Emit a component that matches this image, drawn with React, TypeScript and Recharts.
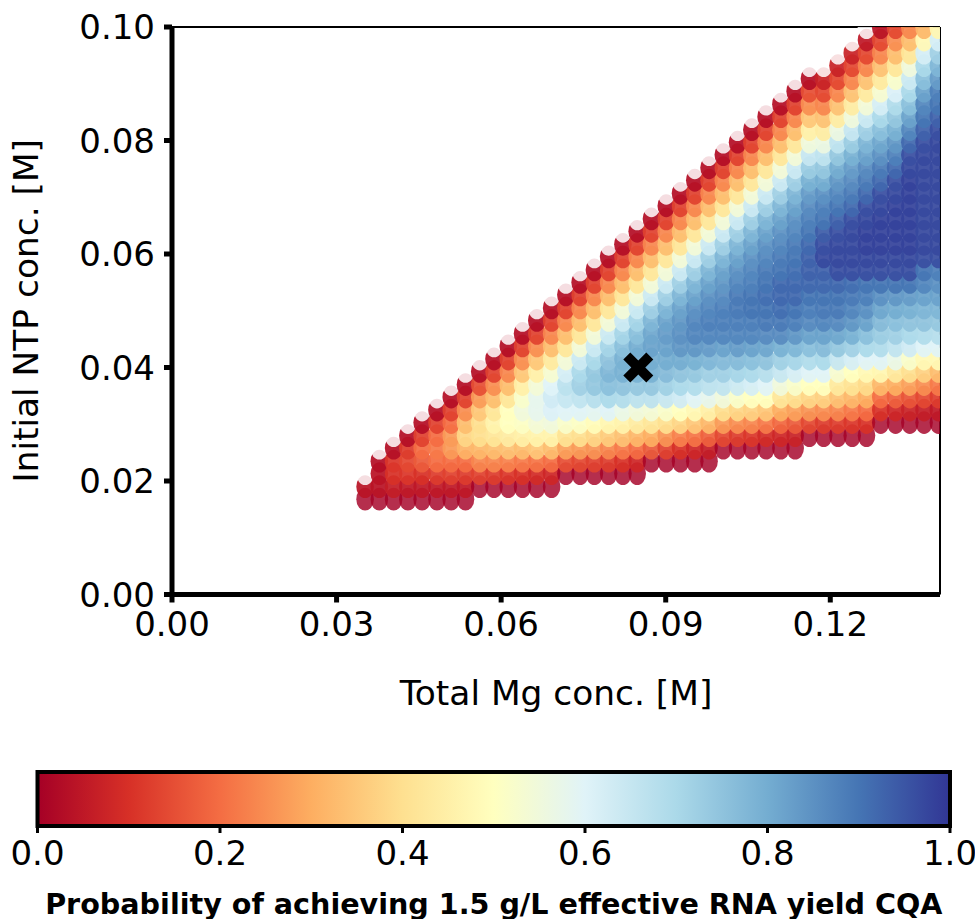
import React from 'react';
import { ScatterChart, Scatter, XAxis, YAxis, ReferenceLine, ReferenceArea } from 'recharts';

const FONT = '"DejaVu Sans"';

const mgTicks = [0, 0.03, 0.06, 0.09, 0.12];
const ntpTicks = [0, 0.02, 0.04, 0.06, 0.08, 0.1];
const barTicks = [0, 0.2, 0.4, 0.6, 0.8, 1];

// colormap stops, 0 to 1
const palette = ['#a50026', '#d73027', '#f46d43', '#fdae61', '#fee090', '#ffffbf', '#e0f3f8', '#abd9e9', '#74add1', '#4575b4', '#313695'];

const mgValues = [
  0.0352, 0.0378, 0.0404, 0.043, 0.0456, 0.0483, 0.0509, 0.0535, 0.0561, 0.0587, 0.0613, 0.0639, 0.0665, 0.0692,
  0.0718, 0.0744, 0.077, 0.0796, 0.0822, 0.0848, 0.0874, 0.0901, 0.0927, 0.0953, 0.0979, 0.1005, 0.1031, 0.1057,
  0.1083, 0.111, 0.1136, 0.1162, 0.1188, 0.1214, 0.124, 0.1266, 0.1292, 0.1319, 0.1345, 0.1371, 0.1397,
];

const ntpValues = [
  0.0168, 0.019, 0.0213, 0.0235, 0.0258, 0.028, 0.0303, 0.0325, 0.0348, 0.037, 0.0393, 0.0415, 0.0438, 0.046,
  0.0483, 0.0505, 0.0528, 0.055, 0.0572, 0.0595, 0.0617, 0.064, 0.0662, 0.0685, 0.0707, 0.073, 0.0752, 0.0775,
  0.0797, 0.0819, 0.0842, 0.0864, 0.0887, 0.0909, 0.0932, 0.0954, 0.0977, 0.0999,
];

// lowest filled row of each Mg column
const firstRow = [
  0, 0, 0, 0, 0, 0, 0, 0, 1, 1, 1, 1, 1, 1, 2, 2, 2, 2, 2, 2, 3, 3, 3, 3, 3, 4, 4, 4, 4, 4, 4, 5, 5, 5, 5, 5, 6, 6, 6, 6, 6,
];

// probability in percent, one list per Mg column, bottom row first
const probability = [
  [0, 4],
  [0, 4, 4, 3],
  [0, 6, 10, 11, 3],
  [0, 5, 11, 14, 12, 3],
  [0, 5, 10, 17, 20, 13, 3],
  [0, 5, 12, 20, 22, 20, 13, 3],
  [0, 5, 13, 20, 27, 27, 20, 13, 3],
  [0, 5, 12, 20, 31, 38, 33, 25, 13, 3],
  [0, 13, 24, 32, 40, 40, 35, 27, 15, 3],
  [0, 12, 24, 33, 42, 46, 42, 33, 25, 13, 3],
  [0, 11, 23, 34, 44, 50, 50, 42, 33, 24, 13, 3],
  [0, 10, 22, 33, 45, 51, 55, 52, 45, 35, 25, 13, 3],
  [0, 9, 21, 35, 46, 54, 58, 58, 54, 45, 35, 25, 13, 3],
  [0, 8, 20, 33, 46, 55, 61, 63, 60, 53, 43, 33, 24, 13, 3],
  [0, 15, 28, 41, 52, 60, 65, 67, 62, 54, 42, 33, 24, 13, 3],
  [0, 14, 27, 40, 51, 60, 66, 72, 70, 64, 54, 42, 33, 24, 13, 3],
  [0, 13, 26, 38, 49, 59, 68, 74, 74, 70, 64, 54, 42, 33, 24, 13, 3],
  [0, 12, 24, 36, 47, 60, 70, 76, 78, 75, 71, 64, 54, 42, 33, 24, 13, 3],
  [0, 10, 22, 34, 46, 57, 69, 75, 79, 79, 76, 71, 64, 54, 42, 33, 24, 13, 3],
  [0, 8, 20, 32, 44, 55, 67, 74, 79, 80, 80, 76, 71, 64, 54, 42, 33, 24, 13, 3],
  [0, 17, 30, 42, 54, 67, 74, 79, 80, 82, 81, 78, 72, 64, 54, 42, 33, 24, 13, 3],
  [0, 13, 26, 40, 52, 65, 72, 77, 80, 82, 83, 82, 78, 72, 64, 54, 42, 33, 24, 13, 3],
  [0, 10, 23, 38, 50, 63, 70, 75, 80, 84, 85, 84, 82, 78, 72, 64, 54, 42, 33, 24, 13, 3],
  [0, 8, 21, 35, 48, 60, 69, 74, 79, 84, 87, 87, 85, 82, 78, 72, 64, 54, 42, 33, 24, 13, 3],
  [0, 6, 18, 32, 45, 58, 67, 72, 78, 83, 87, 88, 87, 85, 82, 78, 72, 64, 54, 42, 33, 24, 13, 3],
  [0, 14, 27, 40, 55, 66, 72, 77, 82, 87, 88, 88, 86, 84, 82, 78, 72, 64, 54, 42, 33, 24, 13, 3],
  [0, 12, 25, 38, 52, 64, 71, 77, 83, 87, 88, 89, 89, 87, 85, 82, 78, 72, 64, 54, 42, 33, 24, 13, 3],
  [0, 11, 24, 37, 50, 62, 70, 76, 82, 87, 88, 90, 90, 88, 87, 85, 82, 78, 72, 64, 54, 42, 33, 24, 13, 3],
  [0, 9, 22, 35, 50, 60, 68, 75, 81, 86, 89, 90, 91, 90, 89, 87, 85, 82, 78, 72, 64, 54, 42, 33, 24, 13, 3],
  [0, 8, 19, 30, 42, 55, 65, 72, 79, 86, 89, 91, 92, 92, 90, 89, 87, 85, 82, 78, 72, 64, 54, 42, 33, 24, 13, 3],
  [0, 7, 17, 28, 40, 52, 62, 71, 78, 84, 88, 90, 92, 92, 91, 90, 89, 87, 85, 82, 78, 72, 64, 54, 42, 33, 24, 13, 3],
  [0, 14, 26, 38, 50, 60, 69, 76, 82, 86, 88, 90, 92, 93, 93, 92, 90, 88, 86, 83, 79, 73, 65, 55, 45, 35, 25, 15, 3],
  [0, 12, 25, 37, 50, 60, 70, 77, 82, 87, 89, 90, 92, 93, 97, 96, 94, 90, 88, 85, 80, 74, 66, 56, 44, 34, 24, 14, 7],
  [0, 12, 24, 34, 43, 53, 65, 74, 81, 86, 89, 90, 92, 96, 97, 97, 96, 93, 90, 87, 84, 80, 74, 66, 56, 44, 34, 24, 14, 7],
  [0, 11, 22, 32, 41, 50, 62, 72, 79, 84, 87, 89, 91, 96, 97, 97, 97, 96, 92, 89, 86, 83, 79, 73, 65, 55, 44, 34, 24, 14, 7],
  [0, 10, 20, 30, 39, 48, 60, 70, 76, 82, 85, 88, 90, 96, 97, 98, 98, 97, 96, 92, 89, 86, 82, 78, 72, 64, 54, 43, 34, 24, 14, 5],
  [0, 10, 20, 32, 47, 60, 69, 73, 77, 81, 85, 90, 96, 97, 98, 98, 98, 97, 96, 92, 89, 85, 81, 76, 70, 62, 53, 43, 34, 24, 14, 4],
  [0, 8, 18, 30, 43, 57, 66, 72, 76, 80, 84, 90, 96, 97, 98, 98, 98, 98, 97, 96, 92, 88, 84, 79, 74, 69, 61, 52, 42, 33, 25, 14],
  [0, 7, 16, 28, 40, 52, 63, 70, 75, 79, 83, 90, 96, 97, 98, 98, 98, 98, 98, 98, 97, 96, 92, 87, 82, 76, 70, 64, 55, 42, 33, 24],
  [0, 6, 14, 25, 37, 48, 60, 69, 75, 78, 82, 87, 90, 96, 97, 97, 97, 97, 97, 97, 97, 97, 96, 93, 90, 87, 82, 76, 70, 62, 48, 32],
  [0, 5, 12, 22, 33, 48, 60, 68, 74, 78, 82, 85, 88, 96, 97, 97, 97, 97, 97, 97, 97, 97, 97, 96, 93, 90, 88, 83, 78, 72, 62, 47],
];

const optimum = [{ x: 0.085, y: 0.04 }];
const barEnds = [{ x: 0, y: 0 }, { x: 1, y: 1 }];

type Dot = { x: number; y: number; p: number };

const hex = (s: string, i: number) => parseInt(s.slice(1 + i * 2, 3 + i * 2), 16);

const colorOf = (p: number) => {
  const t = Math.min(Math.max(p, 0), 0.9999) * 10;
  const i = Math.floor(t);
  const f = t - i;
  const c = [0, 1, 2].map((k) => Math.round(hex(palette[i], k) * (1 - f) + hex(palette[i + 1], k) * f));
  return `rgb(${c[0]},${c[1]},${c[2]})`;
};

// rows go bottom up so the upper circles cover the lower ones, p = -1 is the white circle above the top edge
const dots: Dot[] = [];
ntpValues.forEach((y, r) => {
  mgValues.forEach((x, c) => {
    const idx = r - firstRow[c];
    const list = probability[c];
    if (idx < 0 || idx > list.length) return;
    dots.push({ x, y, p: idx === list.length ? -1 : list[idx] / 100 });
  });
});

// the markers in the picture are taller than wide
const Dot = (props: any) => {
  const { cx, cy, payload } = props;
  if (payload.p < 0) {
    return <ellipse cx={cx} cy={cy} rx={8.8} ry={11.4} fill="#fff" fillOpacity={0.85} />;
  }
  return <ellipse cx={cx} cy={cy} rx={8.8} ry={11.4} fill={colorOf(payload.p)} fillOpacity={payload.p === 0 ? 0.82 : 0.93} />;
};

const Cross = (props: any) => {
  const { cx, cy } = props;
  const pts = [[-15, -8], [-8, -15], [0, -7], [8, -15], [15, -8], [7, 0], [15, 8], [8, 15], [0, 7], [-8, 15], [-15, 8], [-7, 0]];
  return <polygon points={pts.map(([a, b]) => `${cx + a},${cy + b}`).join(' ')} fill="#000" />;
};

const tickStyle = { fontSize: 34, fill: '#000', fontFamily: FONT };

const App = () => (
  <div style={{ position: 'absolute', left: 0, top: 0, width: 975, height: 919, overflow: 'hidden', background: '#fff' }}>
    <div style={{ position: 'absolute', left: 0, top: 0 }}>
      <ScatterChart width={975} height={730} margin={{ top: 27, right: 35, bottom: 0, left: 0 }}>
        <XAxis
          type="number"
          dataKey="x"
          domain={[0, 0.14]}
          ticks={mgTicks}
          interval={0}
          allowDataOverflow
          height={135.5}
          tickFormatter={(v: number) => v.toFixed(2)}
          tick={tickStyle}
          tickSize={8}
          tickMargin={9}
          tickLine={{ stroke: '#000', strokeWidth: 5 }}
          axisLine={{ stroke: '#000', strokeWidth: 5 }}
          label={{ value: 'Total Mg conc. [M]', position: 'insideBottom', offset: 25, style: { fontSize: 34.4, fill: '#000', fontFamily: FONT } }}
        />
        <YAxis
          type="number"
          dataKey="y"
          domain={[0, 0.1]}
          ticks={ntpTicks}
          interval={0}
          allowDataOverflow
          width={172}
          tickFormatter={(v: number) => v.toFixed(2)}
          tick={tickStyle}
          tickSize={8}
          tickMargin={9}
          tickLine={{ stroke: '#000', strokeWidth: 5 }}
          axisLine={{ stroke: '#000', strokeWidth: 5 }}
          label={{ value: 'Initial NTP conc. [M]', angle: -90, position: 'insideLeft', offset: 26, style: { fontSize: 34.4, fill: '#000', fontFamily: FONT, textAnchor: 'middle' } }}
        />
        <Scatter data={dots} shape={Dot} isAnimationActive={false} />
        <Scatter data={optimum} shape={Cross} isAnimationActive={false} />
        <ReferenceLine y={0.1} stroke="#000" strokeWidth={2} />
        <ReferenceLine x={0.14} stroke="#000" strokeWidth={2} />
      </ScatterChart>
    </div>
    <div style={{ position: 'absolute', left: 0, top: 760 }}>
      <ScatterChart width={975} height={159} margin={{ top: 12, right: 25, bottom: 0, left: 37.5 }}>
        <defs>
          <linearGradient id="rdylbu" x1="0" y1="0" x2="1" y2="0">
            {palette.map((c, i) => (
              <stop key={c} offset={`${i * 10}%`} stopColor={c} />
            ))}
          </linearGradient>
        </defs>
        <XAxis
          type="number"
          dataKey="x"
          domain={[0, 1]}
          ticks={barTicks}
          interval={0}
          height={93}
          tickFormatter={(v: number) => v.toFixed(1)}
          tick={tickStyle}
          tickSize={7}
          tickMargin={8}
          tickLine={{ stroke: '#000', strokeWidth: 3 }}
          axisLine={false}
          label={{ value: 'Probability of achieving 1.5 g/L effective RNA yield CQA', position: 'insideBottom', offset: 5, style: { fontSize: 28.6, fontWeight: 700, fill: '#000', fontFamily: FONT } }}
        />
        <YAxis type="number" dataKey="y" domain={[0, 1]} hide />
        <Scatter data={barEnds} shape={() => null} isAnimationActive={false} />
        <ReferenceArea x1={0} x2={1} y1={0} y2={1} fill="url(#rdylbu)" fillOpacity={1} stroke="#000" strokeWidth={4} />
      </ScatterChart>
    </div>
  </div>
);

export default App;
